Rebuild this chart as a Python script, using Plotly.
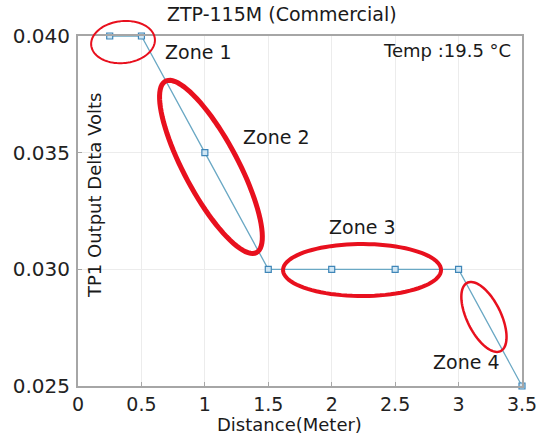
import numpy as np
import plotly.graph_objects as go

# ---- data ----
distance = [0.25, 0.5, 1.0, 1.5, 2.0, 2.5, 3.0, 3.5]
delta_volts = [0.040, 0.040, 0.035, 0.030, 0.030, 0.030, 0.030, 0.025]

x_ticks = [0, 0.5, 1, 1.5, 2, 2.5, 3, 3.5]
x_tick_text = ["0", "0.5", "1", "1.5", "2", "2.5", "3", "3.5"]
y_ticks = [0.025, 0.030, 0.035, 0.040]
y_tick_text = ["0.025", "0.030", "0.035", "0.040"]

zone_labels = ["Zone 1", "Zone 2", "Zone 3", "Zone 4"]
zone_label_x = [0.946, 1.561, 2.239, 3.066]
zone_label_y = [0.03931, 0.03567, 0.03181, 0.02603]

# highlight ellipses: centre in data units
ell_cx = [0.355, 1.048, 2.239, 3.20]
ell_cy = [0.03974, 0.03439, 0.02997, 0.02796]
# semi-axes (px), tilt (deg), stroke width
ell_a = [32, 97, 79, 38]
ell_b = [21, 27, 26, 17]
ell_tilt = [-6, 62, 0, 64]
ell_w = [2, 5, 4, 2.5]

# ---- layout geometry ----
W, H = 548, 436
ML, MR, MT, MB = 78, 26, 36, 50
XR = [0, 3.5]
YR = [0.025, 0.040]
pw, ph = W - ML - MR, H - MT - MB
sx = pw / (XR[1] - XR[0])
sy = ph / (YR[1] - YR[0])

FONT = "DejaVu Sans"
TXT = "#1a1a1a"

fig = go.Figure()
fig.add_trace(go.Scatter(
    x=distance, y=delta_volts, mode="lines+markers",
    line=dict(color="#6aa8c4", width=1.3),
    marker=dict(symbol="square", size=6, color="#cfe6f4",
                line=dict(color="#3f86b8", width=1.2)),
    cliponaxis=False, showlegend=False,
))

shapes = []
t = np.linspace(0, 2 * np.pi, 90)
for cx, cy, a, b, th, w in zip(ell_cx, ell_cy, ell_a, ell_b, ell_tilt, ell_w):
    r = np.deg2rad(th)
    ux, uy = a * np.cos(t), b * np.sin(t)
    px = ux * np.cos(r) - uy * np.sin(r)
    py = ux * np.sin(r) + uy * np.cos(r)
    xd = cx + px / sx
    yd = cy - py / sy
    xp = (xd - XR[0]) / (XR[1] - XR[0])
    yp = (yd - YR[0]) / (YR[1] - YR[0])
    path = "M " + " L ".join(f"{x:.5f},{y:.5f}" for x, y in zip(xp, yp)) + " Z"
    shapes.append(dict(type="path", path=path, xref="paper", yref="paper",
                       line=dict(color="#e8101e", width=w), layer="above"))


def ann(text, x, y, xref="paper", yref="paper", size=19, angle=0):
    return dict(text=text, x=x, y=y, xref=xref, yref=yref, showarrow=False,
                xanchor="center", yanchor="middle", textangle=angle,
                font=dict(family=FONT, size=size, color=TXT))


def px2paper(px, py):
    return (px - ML) / pw, (H - MB - py) / ph


annotations = []
for lab, x, y in zip(zone_labels, zone_label_x, zone_label_y):
    annotations.append(ann(lab, x, y, "x", "y", size=19))
annotations.append(ann("Temp :19.5 \u00b0C", 2.909, 0.03936, "x", "y", size=18))
annotations.append(ann("ZTP-115M (Commercial)", *px2paper(282, 14), size=19))
annotations.append(ann("TP1 Output Delta Volts", *px2paper(94, 196), size=18, angle=-90))
annotations.append(ann("Distance(Meter)", *px2paper(289, 424), size=18))

axis_common = dict(showgrid=True, gridcolor="#ececec", gridwidth=1,
                   showline=True, linecolor="#a6a6a6", linewidth=2, mirror=True,
                   ticks="inside", ticklen=4, tickcolor="#a6a6a6", zeroline=False)

fig.update_layout(
    width=W, height=H, margin=dict(l=ML, r=MR, t=MT, b=MB),
    paper_bgcolor="white", plot_bgcolor="white",
    xaxis=dict(range=XR, tickvals=x_ticks, ticktext=x_tick_text,
               tickfont=dict(family=FONT, size=19, color="#222222"), **axis_common),
    yaxis=dict(range=YR, tickvals=y_ticks, ticktext=y_tick_text,
               tickfont=dict(family=FONT, size=20, color="#222222"),
               ticklabelstandoff=2, **axis_common),
    shapes=shapes, annotations=annotations,
)

fig.write_html("out.html")
